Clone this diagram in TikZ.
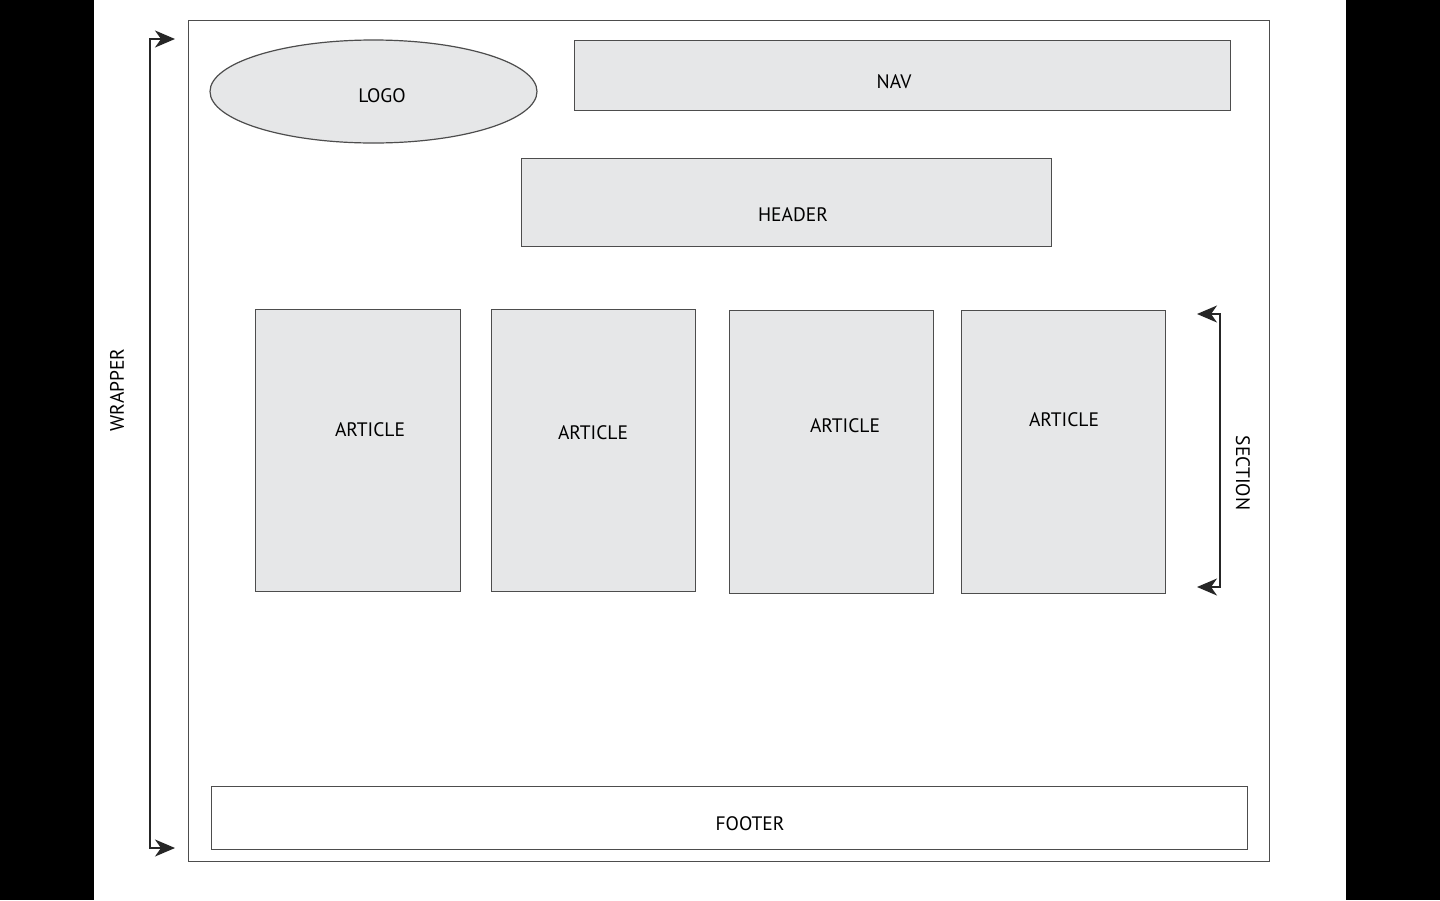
\documentclass[tikz,border=0pt]{standalone}
\usepackage{fontspec}
\setmainfont{PT Sans}
\usepackage{xcolor}
\usetikzlibrary{calc}
\usetikzlibrary{arrows.meta}
\usetikzlibrary{shapes.geometric}
\definecolor{boxgray}{HTML}{E6E7E8}
\definecolor{edgegray}{HTML}{4D4D4D}
\tikzset{
  block/.style={draw=edgegray, line width=1.2pt, fill=boxgray, anchor=north west, inner sep=0pt},
  label text/.style={font=\fontsize{19.5}{24}\selectfont, text=black},
  bracket/.style={draw=black!85, line width=1.4pt,
    arrows={Stealth[length=20pt,width=17pt,inset=6pt]-Stealth[length=20pt,width=17pt,inset=6pt]}}
}

\begin{document}
\begin{tikzpicture}[x=1pt, y=-1pt]
		\fill[black] (0,0) rectangle (1440,900);
		\fill[white] (94,0) rectangle (1346,900);
		\useasboundingbox (0,0) rectangle (1440,900);
		%
		\node[draw=edgegray, line width=1.2pt, anchor=north west, inner sep=0pt, minimum width=1081pt, minimum height=841pt] (wrapper) at (188,20) {};
		\node[draw=edgegray, line width=1.2pt, fill=boxgray, ellipse, inner sep=0pt, minimum width=327pt, minimum height=103pt] (logo) at (373.5,91.5) {};
		\node[block, minimum width=656pt, minimum height=70pt] (nav) at (574,40) {};
		\node[block, minimum width=530pt, minimum height=88pt] (header) at (521,158) {};
		\node[block, minimum width=205pt, minimum height=282pt] (art1) at (255,309) {};
		\node[block, minimum width=204pt, minimum height=282pt] (art2) at (491,309) {};
		\node[block, minimum width=204pt, minimum height=283pt] (art3) at (729,310) {};
		\node[block, minimum width=204pt, minimum height=283pt] (art4) at (961,310) {};
		\node[block, fill=white, minimum width=1036pt, minimum height=63pt] (footer) at (211,786) {};
		%
		\coordinate (wtop) at (175,39);
		\coordinate (wbot) at (175,848);
		\coordinate (stop) at (1197,314);
		\coordinate (sbot) at (1197,587);
		\draw[bracket] (wtop) -- ++(-25,0) |- (wbot);
		\draw[bracket] (stop) -- ++(23,0) |- (sbot);
		%
		\node[label text] at (382,96) {LOGO};
		\node[label text] at (894,82) {NAV};
		\node[label text] at (793,215) {HEADER};
		\node[label text] at (370,430) {ARTICLE};
		\node[label text] at (593,433) {ARTICLE};
		\node[label text] at (845,426) {ARTICLE};
		\node[label text] at (1064,420) {ARTICLE};
		\node[label text] at (750,824) {FOOTER};
		\node[label text, rotate=90] at (117,390) {WRAPPER};
		\node[label text, rotate=-90] at (1243,473) {SECTION};
	\end{tikzpicture}
\end{document}
